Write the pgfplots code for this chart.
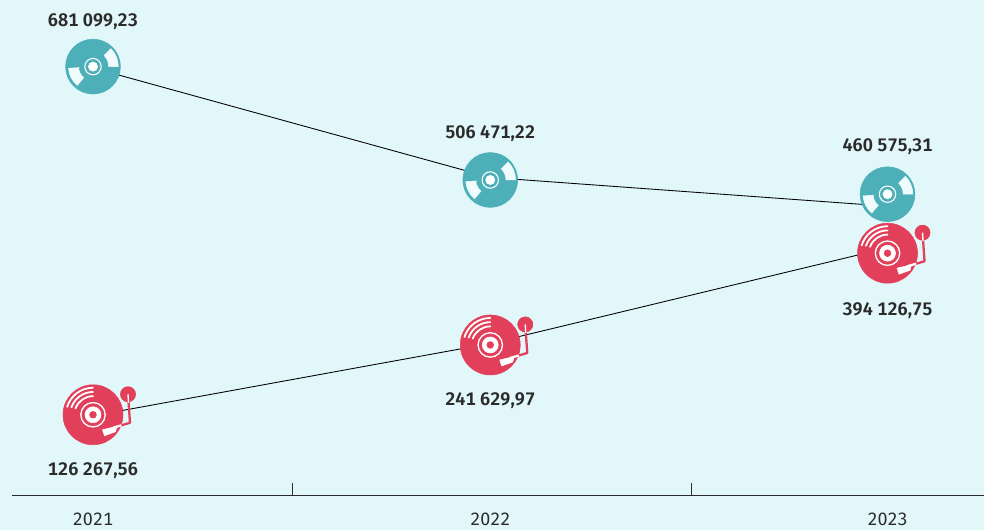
\documentclass[border=0pt]{standalone}
\usepackage{fontspec}
\setmainfont[Numbers=Tabular]{Fira Sans}
\newfontfamily\medfont[Numbers=Tabular]{Fira Sans SemiBold}
\usepackage{pgfplots}
\pgfplotsset{compat=1.18}
\definecolor{bgc}{HTML}{E2F7F9}
\definecolor{tealc}{HTML}{4DB0B8}
\definecolor{redc}{HTML}{E2405A}
\definecolor{txtc}{HTML}{2B2B2B}
\definecolor{wedgec}{HTML}{EFFBFC}
\pgfdeclareplotmark{tealdisc}{%
  \begin{scope}[x=0.75pt,y=0.75pt]
    \fill[tealc] (0,0) circle[radius=27.4];
    \fill[wedgec] (0:15.7) -- (0:25.3) arc[start angle=0,end angle=45,radius=25.3] -- (45:15.7) arc[start angle=45,end angle=0,radius=15.7] -- cycle;
    \fill[wedgec] (184:13.5) -- (184:24.5) arc[start angle=184,end angle=230,radius=24.5] -- (230:14.5) arc[start angle=230,end angle=184,radius=14.5] -- cycle;
    \draw[white,line width=0.8pt] (0,0) circle[radius=8.2];
    \fill[white] (0,0) circle[radius=4.6];
  \end{scope}}
\pgfdeclareplotmark{reddisc}{%
  \begin{scope}[x=0.75pt,y=0.75pt]
    \draw[redc,line width=1.7pt,line join=round] (35,20.5) -- (37,-8) -- (22,-12.5);
    \fill[redc] (35,20.5) circle[radius=7.6];
    \fill[redc] (0,0) circle[radius=30];
    \draw[white,line width=1.7pt] (28.5,-10.55) -- (20,-13);
    \draw[white,line width=1pt] (35,20.5) -- (35.5,12);
    \fill[white] (24,-11.5) -- (22.5,-17) -- (11.5,-21) -- (9.5,-15) -- cycle;
    \draw[white,line width=1.35pt,line cap=round] (90:27) arc[start angle=90,end angle=163,radius=27];
    \draw[white,line width=1.35pt,line cap=round] (90:22.8) arc[start angle=90,end angle=161,radius=22.8];
    \draw[white,line width=1.35pt,line cap=round] (90:18.6) arc[start angle=90,end angle=160,radius=18.6];
    \draw[white,line width=1pt] (0,0) circle[radius=12.2];
    \fill[white] (0,0) circle[radius=8];
    \fill[redc] (0,0) circle[radius=3.4];
  \end{scope}}
\begin{document}
\begin{tikzpicture}[x=0.75pt,y=0.75pt]
\fill[bgc] (0,0) rectangle (984,530);
\path[use as bounding box] (0,0) rectangle (984,530);
\begin{axis}[
  at={(9pt,26.25pt)}, anchor=south west,
  scale only axis, width=729pt, height=371.25pt,
  xmin=2020.7961, xmax=2023.2429, ymin=0, ymax=789474,
  axis y line=none, axis x line=bottom,
  axis line style={-, txtc, line width=0.65pt},
  clip=false,
  xtick={2021,2022,2023},
  xticklabels={2021,2022,2023},
  major tick length=0pt,
  x tick label style={font=\fontsize{13.4}{15}\selectfont, text=txtc, yshift=-9.6pt},
  extra x ticks={2021.501,2022.505},
  extra x tick labels={},
  extra x tick style={major tick length=9pt, tick align=inside, tick style={txtc, line width=0.55pt}},
  enlargelimits=false,
]
% teal 2023 icon lies under the line
\addplot[only marks, mark=tealdisc, mark options={yshift=9pt}, forget plot] coordinates {(2023,460575.31)};
\addplot[black, line width=0.65pt, no marks, shorten >=6.5pt] coordinates {(2021,681099.23) (2022,506471.22) (2023,460575.31)};
\addplot[black, line width=0.65pt, no marks] coordinates {(2021,126267.56) (2022,241629.97) (2023,394126.75)};
\addplot[only marks, mark=tealdisc, mark options={yshift=1pt}] coordinates {(2021,681099.23)};
\addplot[only marks, mark=tealdisc, mark options={yshift=-1.9pt}] coordinates {(2022,506471.22)};
\addplot[only marks, mark=reddisc, mark options={yshift=0.8pt}] coordinates {(2021,126267.56)};
\addplot[only marks, mark=reddisc, mark options={yshift=-1.1pt}] coordinates {(2022,241629.97)};
\addplot[only marks, mark=reddisc, mark options={yshift=-4pt}] coordinates {(2023,394126.75)};
\tikzset{vallab/.style={font=\medfont\fontsize{13.6}{15}\selectfont, text=txtc, inner sep=0pt}}
\node[vallab,yshift=35pt] at (axis cs:2021,681099.23) {681 099,23};
\node[vallab,yshift=33pt] at (axis cs:2022,506471.22) {506 471,22};
\node[vallab,yshift=44.9pt] at (axis cs:2023,460575.31) {460 575,31};
\node[vallab,yshift=-41.2pt] at (axis cs:2021,126267.56) {126 267,56};
\node[vallab,yshift=-42.9pt] at (axis cs:2022,241629.97) {241 629,97};
\node[vallab,yshift=-47.3pt] at (axis cs:2023,394126.75) {394 126,75};
\end{axis}
\end{tikzpicture}
\end{document}
